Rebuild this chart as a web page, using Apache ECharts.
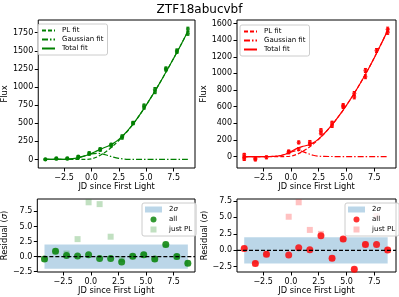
<!DOCTYPE html>
<html><head><meta charset="utf-8">
<script src="https://cdn.jsdelivr.net/npm/echarts@6/dist/echarts.min.js"></script>
<style>html,body{margin:0;padding:0;background:#fff}#c{width:399px;height:297px}</style>
</head><body><div id="c"></div>
<script>
const chartTitle = 'ZTF18abucvbf';
const xName = 'JD since First Light';

// Left (green) light curve observations
const gObsX = [-4.2,-4.2,-3.2,-3.2,-2.2,-2.2,-1.2,-1.2,-0.2,-0.2,0.8,0.8,1.8,1.8,2.8,2.8,3.8,3.8,4.8,4.8,5.8,5.8,6.8,6.8,7.8,7.8,8.8,8.8];
const gObsFlux = [0,2,8,15,10,16,30,40,75,90,130,145,190,205,300,320,498,508,715,745,930,970,1240,1255,1488,1502,1740,1800];
const gObsErr = [12,12,14,14,14,14,15,15,16,16,16,16,18,18,18,18,18,18,20,20,22,22,22,22,24,24,26,26];

// Right (red) light curve observations
const rObsX = [-4.2,-4.2,-4.2,-3.2,-3.2,-2.2,-0.2,-0.2,0.7,0.7,1.7,1.7,2.7,2.7,3.7,3.7,4.7,4.7,5.7,5.7,6.7,6.7,7.7,8.7,8.7];
const rObsFlux = [20,-10,-30,-20,-35,-10,50,60,90,170,150,175,280,315,370,405,600,615,715,760,960,1035,1275,1495,1530];
const rObsErr = [18,18,18,18,18,18,18,18,18,18,18,18,20,20,20,20,22,22,22,22,24,24,24,26,26];

// Fit curves, read at these epochs
const fitX   = [-4.2,-3.5,-3,-2.5,-2,-1.5,-1,-0.5,0,0.5,1,1.5,2,2.5,3,3.5,4,4.5,5,5.5,6,6.5,7,7.5,8,8.5,8.8];
const gPL    = [0,0,0,0,0,0,0,0,7,34,76,128,190,262,342,429,528,635,750,870,995,1125,1260,1395,1535,1680,1768];
const gGauss = [0,0,0.4,1.8,5.8,15,32,55,76,85,76,55,32,15,5.8,1.8,0.4,0,0,0,0,0,0,0,0,0,0];
const gTotal = [0,0,0.4,1.8,5.8,15,32,55,83,119,152,183,222,277,348,431,528,635,750,870,995,1125,1260,1395,1535,1680,1768];
const rPL    = [0,0,0,0,0,0,0,0,5,25,57,98,149,208,276,350,432,521,617,719,827,942,1062,1189,1322,1460,1546];
const rGauss = [0,0,0,0,0.4,2.2,9.5,27,53,69.5,62,37,15,4.2,0.8,0.1,0,0,0,0,0,0,0,0,0,0,0];
const rTotal = [0,0,0,0,0.4,2.2,9.5,27,58,94.5,119,135,164,212,277,350,432,521,617,719,827,942,1062,1189,1322,1460,1546];

// Residuals (sigma)
const gResX   = [-4.2,-3.2,-2.2,-1.2,-0.2,0.8,1.8,2.8,3.8,4.8,5.8,6.8,7.8,8.8];
const gResAll = [-0.4,0.9,0.2,0.1,0.3,-0.3,-0.3,-0.9,0.05,0.3,-0.4,2.0,0.0,-1.1];
const gResPL  = [-0.4,0.9,0.5,2.9,9.0,8.7,3.3,-0.4,0.05,0.3,-0.4,2.0,0.0,-1.1];
const rResX   = [-4.2,-3.2,-2.2,-0.2,0.7,1.7,2.7,3.7,4.7,5.7,6.7,7.7,8.7];
const rResAll = [0.27,-2.0,-0.6,-0.7,0.4,0.1,2.2,-1.2,1.7,-2.9,0.9,0.9,0.05];
const rResPL  = [0.27,-2.0,-0.6,5.1,7.3,3.1,2.5,-1.2,1.7,-2.9,0.9,5.2,0.05];
const sigmaBand = [-2, 2];
const zeroLevel = 0;
const gBandX = [-4.2, 8.8];
const rBandX = [-4.2, 8.7];

// Tick labels
const xTicks = [-2.5,0,2.5,5,7.5];
const gFluxTicks = [0,250,500,750,1000,1250,1500,1750];
const rFluxTicks = [0,200,400,600,800,1000,1200,1400,1600];
const resTicks = [-2.5,0,2.5,5,7.5];

const FONT = 'DejaVu Sans';
const X_MIN = -4.85, X_MAX = 9.45;
const zip = (a,b) => a.map((v,i)=>[v,b[i]]);
const fmt1 = v => (v<0?'\u2212':'') + Math.abs(v).toFixed(1);
const fmt0 = v => (v<0?'\u2212':'') + Math.abs(v).toFixed(0);

const labels = {
  gPL:'PL fit', gGauss:'Gaussian fit', gTotal:'Total fit',
  rPL:'PL fit', rGauss:'Gaussian fit', rTotal:'Total fit',
  gBand:'2{i|σ}', gAll:'all', gJust:'just PL',
  rBand:'2{i|σ}', rAll:'all', rJust:'just PL'
};

const grids = [
  {left:35, top:20, width:160, height:148},
  {left:237, top:20, width:159, height:148},
  {left:35, top:199, width:160, height:73},
  {left:237, top:199, width:159, height:73}
].map(g => Object.assign(g, {show:true, borderColor:'#000', borderWidth:1, backgroundColor:'transparent'}));

function xAxisFor(i) {
  return {
    type:'value', gridIndex:i, min:X_MIN, max:X_MAX, position:'bottom',
    name:xName, nameLocation:'middle', nameGap:14,
    nameTextStyle:{fontSize:8.3, fontFamily:FONT, color:'#000'},
    axisLine:{show:false, onZero:false}, splitLine:{show:false},
    axisTick:{show:true, length:3.5, lineStyle:{color:'#000', width:1}, customValues:xTicks},
    axisLabel:{fontSize:8, fontFamily:FONT, color:'#000', margin:6, customValues:xTicks, formatter:fmt1}
  };
}
function yAxisFor(i, min, max, ticks, name, gap, f) {
  return {
    type:'value', gridIndex:i, min:min, max:max, position:'left',
    name:name, nameLocation:'middle', nameGap:gap,
    nameTextStyle:{fontSize:8.3, fontFamily:FONT, color:'#000',
      rich:{i:{fontStyle:'italic', fontSize:8.3, fontFamily:FONT, color:'#000'}}},
    axisLine:{show:false, onZero:false}, splitLine:{show:false},
    axisTick:{show:true, length:3.5, lineStyle:{color:'#000', width:1}, customValues:ticks},
    axisLabel:{fontSize:8, fontFamily:FONT, color:'#000', margin:5, customValues:ticks, formatter:f}
  };
}

function fitSeries(id, idx, xs, ys, color, type) {
  return {
    id:id, name:id, type:'line', xAxisIndex:idx, yAxisIndex:idx,
    data:zip(xs, ys), symbol:'none', showSymbol:false, smooth:0.35,
    lineStyle:{color:color, width:1.2, type:type}, itemStyle:{color:color},
    z:2, silent:true, animation:false
  };
}
function errSeries(id, idx, xs, ys, es, color) {
  return {
    id:id, type:'custom', xAxisIndex:idx, yAxisIndex:idx,
    data:xs.map((x,i)=>[x, ys[i], es[i]]),
    renderItem:function(params, api){
      const x=api.value(0), y=api.value(1), e=api.value(2);
      const t=api.coord([x, y+e]), b=api.coord([x, y-e]);
      const st={stroke:color, lineWidth:1};
      return {type:'group', children:[
        {type:'line', shape:{x1:t[0],y1:t[1],x2:b[0],y2:b[1]}, style:st},
        {type:'line', shape:{x1:t[0]-1.5,y1:t[1],x2:t[0]+1.5,y2:t[1]}, style:st},
        {type:'line', shape:{x1:b[0]-1.5,y1:b[1],x2:b[0]+1.5,y2:b[1]}, style:st}
      ]};
    },
    z:3, silent:true, animation:false
  };
}
function obsSeries(id, idx, xs, ys, color) {
  return {id:id, type:'scatter', xAxisIndex:idx, yAxisIndex:idx, data:zip(xs, ys),
    symbol:'circle', symbolSize:4, itemStyle:{color:color}, z:4, silent:true, animation:false};
}
function bandSeries(id, idx, bx, color) {
  return {
    id:id, name:id, type:'custom', xAxisIndex:idx, yAxisIndex:idx,
    data:[[bx[0], bx[1], sigmaBand[0], sigmaBand[1]]],
    itemStyle:{color:color},
    renderItem:function(params, api){
      const p0=api.coord([api.value(0), api.value(3)]);
      const p1=api.coord([api.value(1), api.value(2)]);
      return {type:'rect', shape:{x:p0[0], y:p0[1], width:p1[0]-p0[0], height:p1[1]-p0[1]},
        style:{fill:color}};
    },
    z:1, silent:true, animation:false
  };
}
function zeroSeries(id, idx) {
  return {
    id:id, type:'custom', xAxisIndex:idx, yAxisIndex:idx,
    data:[[X_MIN, X_MAX, zeroLevel]],
    renderItem:function(params, api){
      const a=api.coord([api.value(0), api.value(2)]);
      const b=api.coord([api.value(1), api.value(2)]);
      return {type:'line', shape:{x1:a[0], y1:a[1], x2:b[0], y2:b[1]},
        style:{stroke:'#000', lineWidth:1.2, lineDash:[4,2]}};
    },
    z:5, silent:true, animation:false
  };
}
function resSeries(id, idx, xs, ys, color, symbol, size) {
  return {id:id, name:id, type:'scatter', xAxisIndex:idx, yAxisIndex:idx, data:zip(xs, ys),
    symbol:symbol, symbolSize:size, itemStyle:{color:color}, z: symbol==='circle'?3:2,
    silent:true, animation:false};
}

const squarePath = 'path://M0,0L10,0L10,10L0,10Z';
const bandColor = 'rgba(31,119,180,0.3)';

function legendBase(left, top, data, iw, ih, gap) {
  return {
    left:left, top:top, orient:'vertical', data:data,
    formatter: n => labels[n],
    itemWidth:iw, itemHeight:ih, itemGap:gap, selectedMode:false,
    textStyle:{fontSize:7, fontFamily:FONT, color:'#000', padding:[0,0,0,2],
      rich:{i:{fontStyle:'italic', fontSize:7, fontFamily:FONT, color:'#000'}}},
    backgroundColor:'rgba(255,255,255,0.8)', borderColor:'#cccccc', borderWidth:1, borderRadius:2,
    padding:[3,4,3,3], symbolKeepAspect:true, z:10
  };
}
const lineItem = n => ({name:n, itemStyle:{opacity:0}});

const option = {
  animation:false,
  backgroundColor:'#fff',
  title:{text:chartTitle, left:'center', top:-1,
    textStyle:{fontSize:12, fontWeight:'normal', color:'#000', fontFamily:FONT}},
  grid:grids,
  xAxis:[xAxisFor(0), xAxisFor(1), xAxisFor(2), xAxisFor(3)],
  yAxis:[
    yAxisFor(0, -118, 1925, gFluxTicks, 'Flux', 23, fmt0),
    yAxisFor(1, -138, 1642, rFluxTicks, 'Flux', 23, fmt0),
    yAxisFor(2, -2.55, 9.55, resTicks, 'Residual ({i|σ})', 18, fmt1),
    yAxisFor(3, -3.3, 7.8, resTicks, 'Residual ({i|σ})', 18, fmt1)
  ],
  legend:[
    legendBase(38, 24, [lineItem('gPL'), lineItem('gGauss'), lineItem('gTotal')], 13, 8, 2),
    legendBase(240, 25, [lineItem('rPL'), lineItem('rGauss'), lineItem('rTotal')], 13, 8, 2),
    legendBase(142, 203, [{name:'gBand', icon:'rect'}, {name:'gAll', icon:'circle'}, {name:'gJust', icon:squarePath}], 17, 6, 3),
    legendBase(345, 203, [{name:'rBand', icon:'rect'}, {name:'rAll', icon:'circle'}, {name:'rJust', icon:squarePath}], 17, 6, 3)
  ],
  series:[
    fitSeries('gPL', 0, fitX, gPL, '#008000', [4,2]),
    fitSeries('gGauss', 0, fitX, gGauss, '#008000', [6,2,1.5,2]),
    fitSeries('gTotal', 0, fitX, gTotal, '#008000', 'solid'),
    errSeries('gErr', 0, gObsX, gObsFlux, gObsErr, '#008000'),
    obsSeries('gObs', 0, gObsX, gObsFlux, '#008000'),

    fitSeries('rPL', 1, fitX, rPL, '#ff0000', [4,2]),
    fitSeries('rGauss', 1, fitX, rGauss, '#ff0000', [6,2,1.5,2]),
    fitSeries('rTotal', 1, fitX, rTotal, '#ff0000', 'solid'),
    errSeries('rErr', 1, rObsX, rObsFlux, rObsErr, '#ff0000'),
    obsSeries('rObs', 1, rObsX, rObsFlux, '#ff0000'),

    bandSeries('gBand', 2, gBandX, bandColor),
    resSeries('gJust', 2, gResX, gResPL, 'rgba(0,128,0,0.3)', 'rect', 6),
    resSeries('gAll', 2, gResX, gResAll, '#008000', 'circle', 7),
    zeroSeries('gZero', 2),

    bandSeries('rBand', 3, rBandX, bandColor),
    resSeries('rJust', 3, rResX, rResPL, 'rgba(255,0,0,0.3)', 'rect', 6),
    resSeries('rAll', 3, rResX, rResAll, '#ff0000', 'circle', 7),
    zeroSeries('rZero', 3)
  ]
};
const chart = echarts.init(document.getElementById('c'), null, {renderer:'canvas'});
chart.setOption(option);
</script></body></html>
